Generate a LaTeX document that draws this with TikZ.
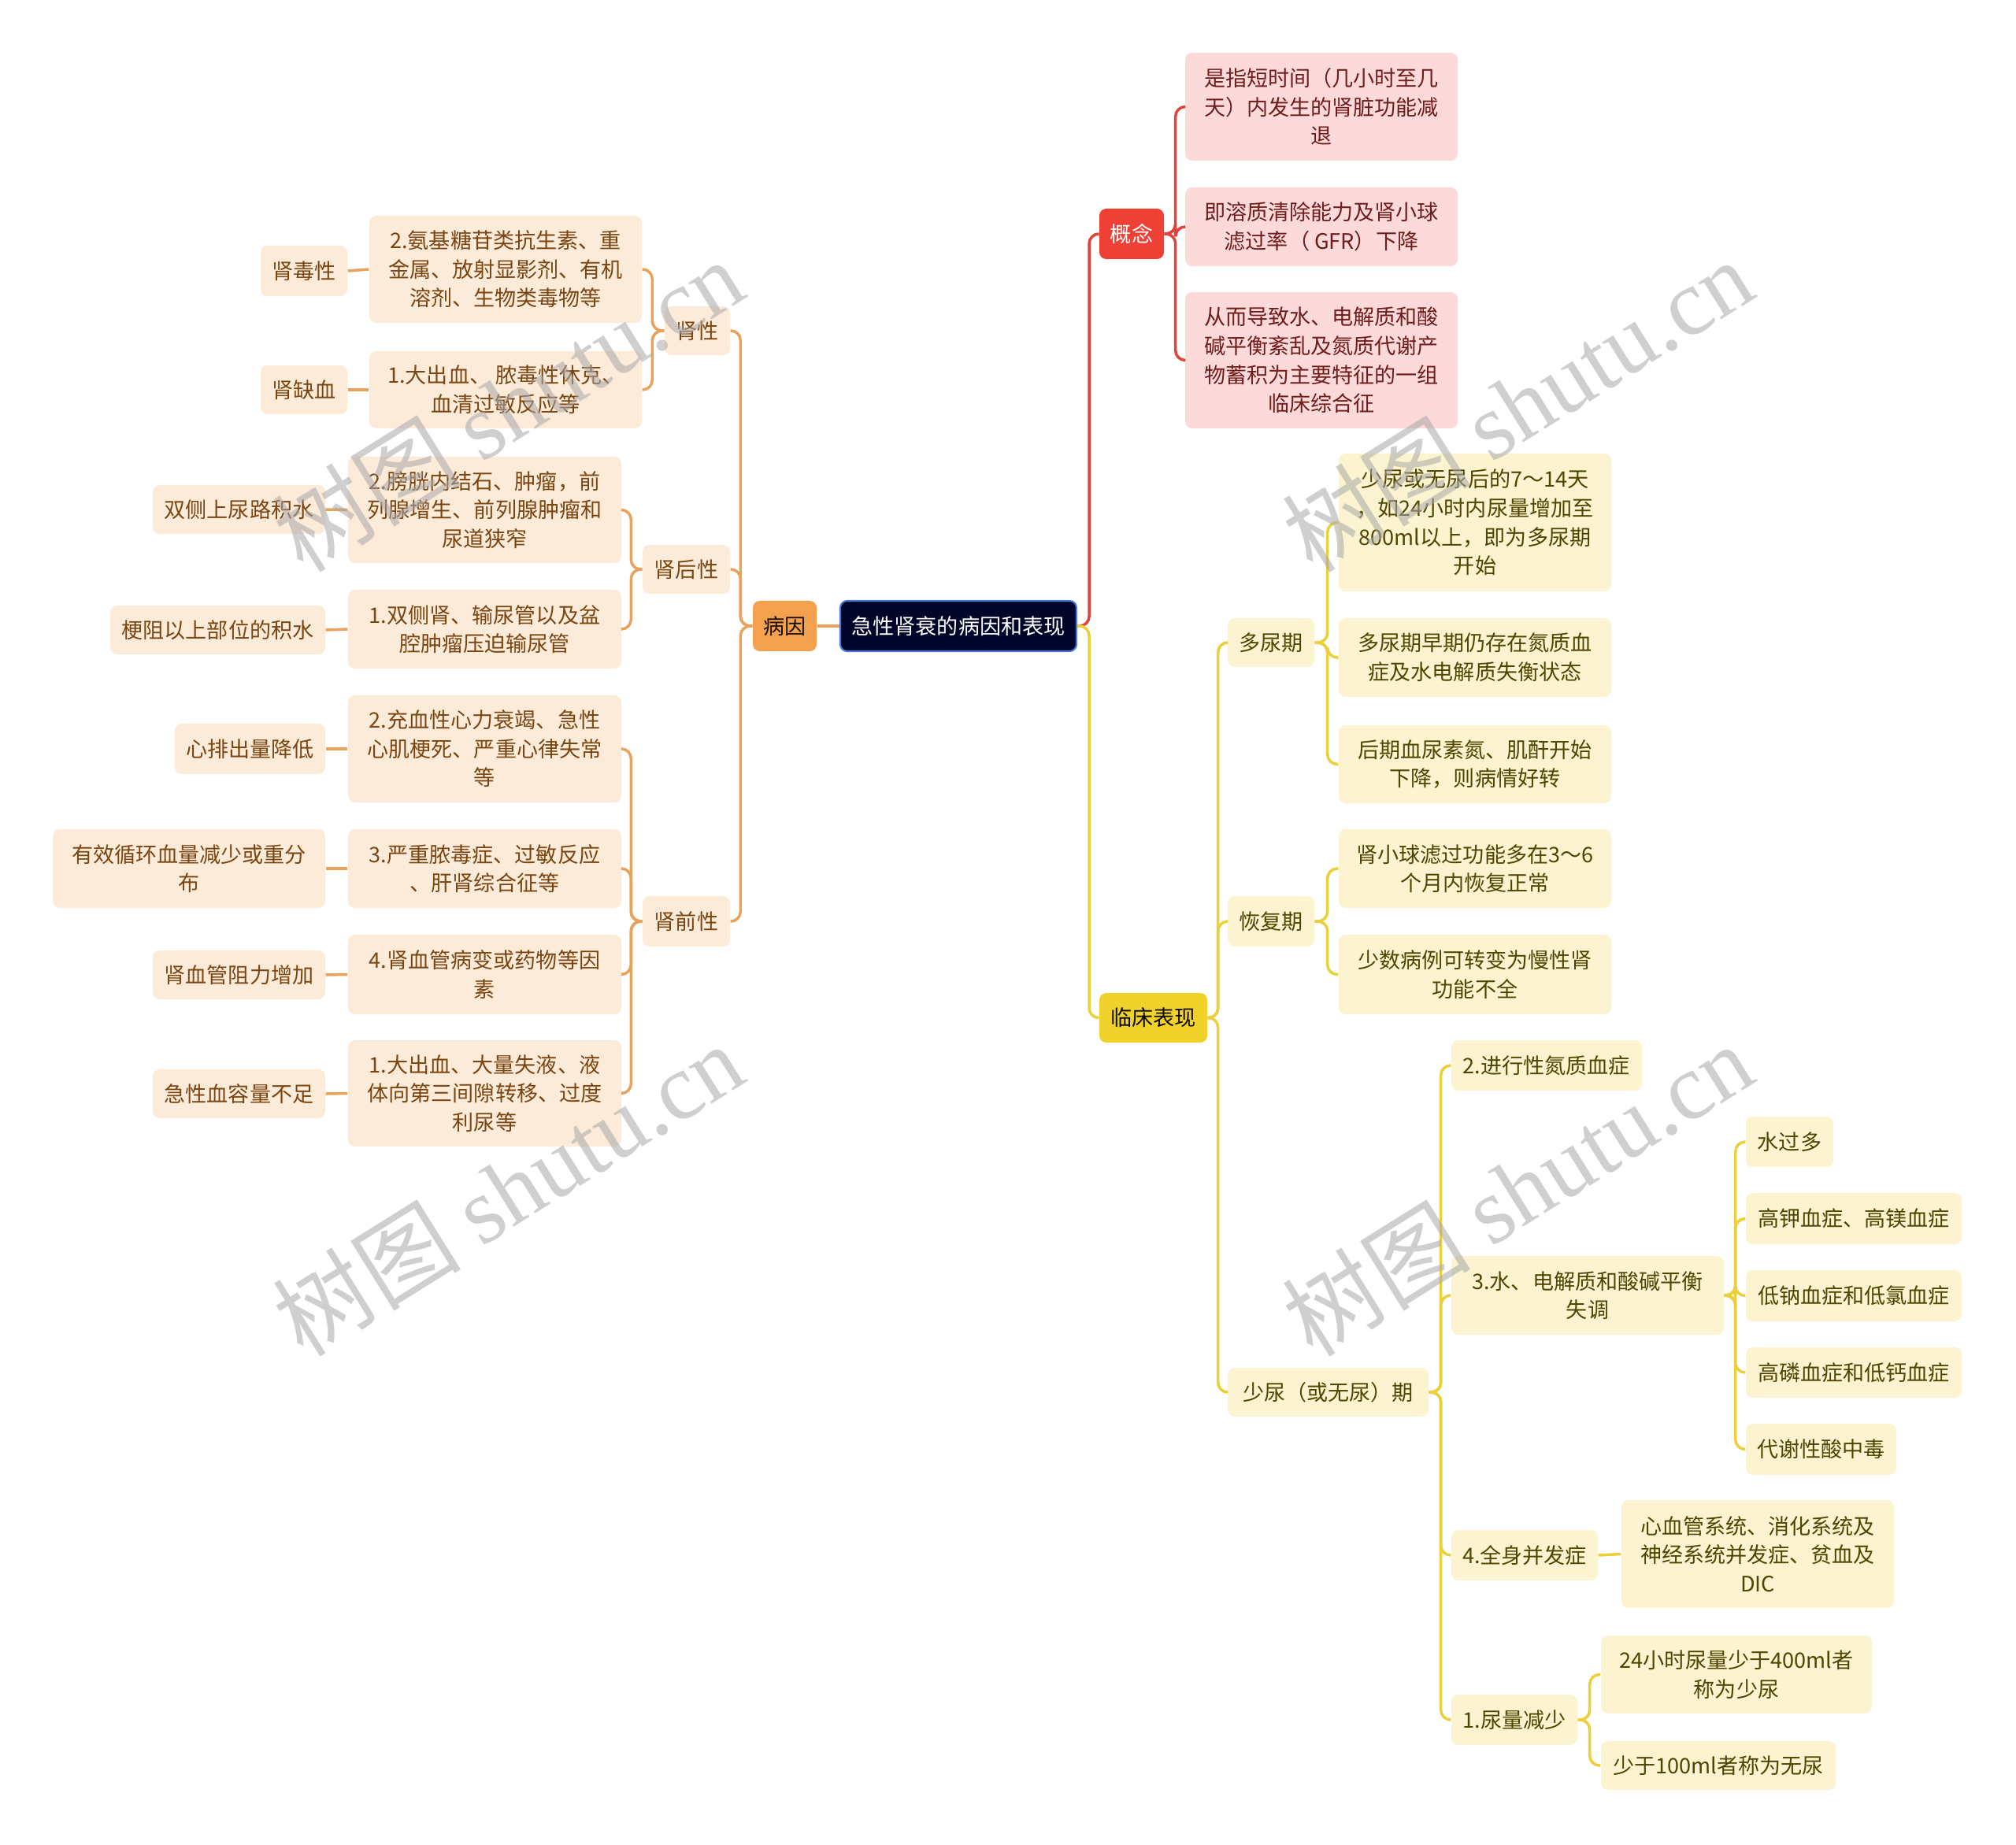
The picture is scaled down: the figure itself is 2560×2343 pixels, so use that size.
\documentclass[tikz,border=0pt]{standalone}
\usepackage{fontspec}
\setmainfont{Noto Sans CJK SC}
\newfontfamily\wmlat{Liberation Serif}
\definecolor{olight}{HTML}{FDEBDA}
\definecolor{ofill}{HTML}{F3A04F}
\definecolor{otext}{HTML}{7A4510}
\definecolor{oline}{HTML}{E9A25C}
\definecolor{rlight}{HTML}{FDDADA}
\definecolor{rfill}{HTML}{EE4035}
\definecolor{rtext}{HTML}{701C1C}
\definecolor{rline}{HTML}{E0433B}
\definecolor{ylight}{HTML}{FCF4D0}
\definecolor{yfill}{HTML}{F1D22B}
\definecolor{ytext}{HTML}{4F4500}
\definecolor{yline}{HTML}{EBD03A}
\definecolor{rootfill}{HTML}{02052A}
\definecolor{rootline}{HTML}{4A78D8}
\definecolor{wmgray}{HTML}{A8A8A8}
\newcommand\bx[7]{\node[#1, minimum width=#5*0.01cm, minimum height=#6*0.01cm] (#2) at (#3,#4) {#7};}
\tikzset{
  box/.style={rounded corners=2.5pt, inner sep=0pt, align=center},
  ob/.style={box, fill=olight, text=otext},
  rb/.style={box, fill=rlight, text=rtext},
  yb/.style={box, fill=ylight, text=ytext},
  rootbox/.style={box, fill=rootfill, draw=rootline, line width=0.6pt, text=white},
  obig/.style={box, fill=ofill, text=black!80!otext},
  rbig/.style={box, fill=rfill, text=white},
  ybig/.style={box, fill=yfill, text=black!85!ytext},
  ol/.style={draw=oline, line width=1pt, rounded corners=3.5pt},
  rl/.style={draw=rline, line width=1pt, rounded corners=3.5pt},
  yl/.style={draw=yline, line width=1pt, rounded corners=3.5pt},
  wm/.style={text=wmgray, opacity=0.55, rotate=32, inner sep=0pt}
}
\begin{document}
\begin{tikzpicture}[x=0.01cm,y=-0.01cm,font=\fontsize{7.7pt}{10.4pt}\selectfont]
\useasboundingbox (0,0) rectangle (2560,2343);
\fill[white] (0,0) rectangle (2560,2343);

% center
\bx{rootbox}{root}{1217}{795}{300}{64}{急性肾衰的病因和表现}
\bx{obig}{by}{996.5}{795}{81}{64}{病因}
\bx{rbig}{gn}{1437}{297}{82}{64}{概念}
\bx{ybig}{lc}{1464.5}{1292.5}{137}{63}{临床表现}

% left orange
\bx{ob}{sx}{885.5}{420}{83}{62}{肾性}
\bx{ob}{sh}{871.5}{723}{111}{62}{肾后性}
\bx{ob}{sq}{871.5}{1170}{111}{64}{肾前性}
\bx{ob}{a1}{642}{342}{346}{136}{2.氨基糖苷类抗生素、重\\金属、放射显影剂、有机\\溶剂、生物类毒物等}
\bx{ob}{a2}{642}{495}{346}{98}{1.大出血、 脓毒性休克、\\血清过敏反应等}
\bx{ob}{la1}{386}{344}{110}{64}{肾毒性}
\bx{ob}{la2}{386}{495}{110}{62}{肾缺血}
\bx{ob}{b1}{615.5}{647.5}{347}{135}{2.膀胱内结石、肿瘤，前\\列腺增生、前列腺肿瘤和\\尿道狭窄}
\bx{ob}{b2}{615.5}{799}{347}{100}{1.双侧肾、输尿管以及盆\\腔肿瘤压迫输尿管}
\bx{ob}{lb1}{303.5}{647}{219}{62}{双侧上尿路积水}
\bx{ob}{lb2}{276.5}{800}{273}{62}{梗阻以上部位的积水}
\bx{ob}{c1}{615.5}{951}{347}{136}{2.充血性心力衰竭、急性\\心肌梗死、严重心律失常\\等}
\bx{ob}{c2}{615.5}{1103}{347}{100}{3.严重脓毒症、过敏反应\\、肝肾综合征等}
\bx{ob}{c3}{615.5}{1237.5}{347}{101}{4.肾血管病变或药物等因\\素}
\bx{ob}{c4}{615.5}{1388.5}{347}{135}{1.大出血、大量失液、液\\体向第三间隙转移、过度\\利尿等}
\bx{ob}{lc1}{317.5}{951}{191}{64}{心排出量降低}
\bx{ob}{lc2}{240}{1103}{346}{100}{有效循环血量减少或重分\\布}
\bx{ob}{lc3}{303.5}{1238}{219}{62}{肾血管阻力增加}
\bx{ob}{lc4}{303.5}{1389}{219}{62}{急性血容量不足}

% right red
\bx{rb}{k1}{1678}{135.5}{346}{137}{是指短时间（几小时至几\\天）内发生的肾脏功能减\\退}
\bx{rb}{k2}{1678}{288}{346}{100}{即溶质清除能力及肾小球\\滤过率（ GFR）下降}
\bx{rb}{k3}{1678}{457.5}{346}{173}{从而导致水、电解质和酸\\碱平衡紊乱及氮质代谢产\\物蓄积为主要特征的一组\\临床综合征}

% right yellow
\bx{yb}{dn}{1614}{816}{110}{62}{多尿期}
\bx{yb}{hf}{1614}{1170}{110}{64}{恢复期}
\bx{yb}{sn}{1686.5}{1768}{255}{62}{少尿（或无尿）期}
\bx{yb}{d1}{1873}{663.5}{346}{175}{少尿或无尿后的7～14天\\，如24小时内尿量增加至\\800ml以上，即为多尿期\\开始}
\bx{yb}{d2}{1873}{835}{346}{100}{多尿期早期仍存在氮质血\\症及水电解质失衡状态}
\bx{yb}{d3}{1873}{970.5}{346}{99}{后期血尿素氮、肌酐开始\\下降，则病情好转}
\bx{yb}{e1}{1873}{1103}{346}{100}{肾小球滤过功能多在3～6\\个月内恢复正常}
\bx{yb}{e2}{1873}{1237.5}{346}{101}{少数病例可转变为慢性肾\\功能不全}
\bx{yb}{f1}{1964}{1353}{242}{64}{2.进行性氮质血症}
\bx{yb}{f2}{2016}{1645}{346}{100}{3.水、电解质和酸碱平衡\\失调}
\bx{yb}{g1}{2272.5}{1450}{111}{64}{水过多}
\bx{yb}{g2}{2354}{1547.5}{274}{65}{高钾血症、高镁血症}
\bx{yb}{g3}{2354}{1645.5}{274}{65}{低钠血症和低氯血症}
\bx{yb}{g4}{2354}{1743}{274}{64}{高磷血症和低钙血症}
\bx{yb}{g5}{2312.5}{1840.5}{191}{65}{代谢性酸中毒}
\bx{yb}{f3}{1936}{1975}{186}{64}{4.全身并发症}
\bx{yb}{h1}{2232}{1973.5}{346}{137}{心血管系统、消化系统及\\神经系统并发症、贫血及\\DIC}
\bx{yb}{f4}{1923}{2184}{160}{64}{1.尿量减少}
\bx{yb}{i1}{2205}{2126.5}{344}{99}{24小时尿量少于400ml者\\称为少尿}
\bx{yb}{i2}{2182}{2242}{298}{62}{少于100ml者称为无尿}

% connectors center
\draw[ol] (root.west) -- (by.east);
\draw[rl] (root.east) -- ++(15,0) |- (gn.west);
\draw[yl] (root.east) -- ++(15,0) |- (lc.west);

% left connectors
\foreach \c in {sx,sh,sq} \draw[ol] (by.west) -- ++(-15,0) |- (\c.east);
\foreach \c in {a1,a2} \draw[ol] (sx.west) -- ++(-15,0) |- (\c.east);
\foreach \c in {b1,b2} \draw[ol] (sh.west) -- ++(-14,0) |- (\c.east);
\foreach \c in {c1,c2,c3,c4} \draw[ol] (sq.west) -- ++(-14,0) |- (\c.east);
\draw[ol] (a1.west) -- (la1.east);
\draw[ol] (a2.west) -- (la2.east);
\draw[ol] (b1.west) -- (lb1.east);
\draw[ol] (b2.west) -- (lb2.east);
\draw[ol] (c1.west) -- (lc1.east);
\draw[ol] (c2.west) -- (lc2.east);
\draw[ol] (c3.west) -- (lc3.east);
\draw[ol] (c4.west) -- (lc4.east);

% right connectors
\foreach \c in {k1,k2,k3} \draw[rl] (gn.east) -- ++(14,0) |- (\c.west);
\foreach \c in {dn,hf,sn} \draw[yl] (lc.east) -- ++(13,0) |- (\c.west);
\foreach \c in {d1,d2,d3} \draw[yl] (dn.east) -- ++(16,0) |- (\c.west);
\foreach \c in {e1,e2} \draw[yl] (hf.east) -- ++(16,0) |- (\c.west);
\foreach \c in {f1,f2,f3,f4} \draw[yl] (sn.east) -- ++(15,0) |- (\c.west);
\foreach \c in {g1,g2,g3,g4,g5} \draw[yl] (f2.east) -- ++(14,0) |- (\c.west);
\draw[yl] (f3.east) -- (h1.west);
\foreach \c in {i1,i2} \draw[yl] (f4.east) -- ++(15,0) |- (\c.west);

% watermarks
\foreach \p/\q in {645/514,1927/514,645/1510,1927/1510,645/2530,1927/2530}
  \node[wm,font=\fontsize{34pt}{38pt}\selectfont] (wm\p\q) at (\p,\q) {树图 {\wmlat shutu.cn}};
\end{tikzpicture}
\end{document}
